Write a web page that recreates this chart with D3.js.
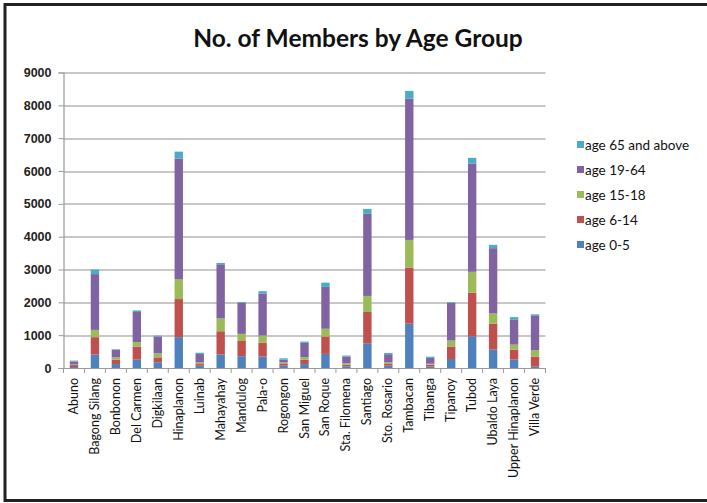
<!DOCTYPE html>
<html>
<head>
<meta charset="utf-8">
<script src="https://cdn.jsdelivr.net/npm/d3@7"></script>
<style>
  body { margin: 0; background: #fff; }
  svg { display: block; }
</style>
</head>
<body>
<svg id="chart" width="707" height="503"></svg>
<script>
// barangay names along the x axis
const barangays = ['Abuno', 'Bagong Silang', 'Bonbonon', 'Del Carmen', 'Digkilaan', 'Hinaplanon',
  'Luinab', 'Mahayahay', 'Mandulog', 'Pala-o', 'Rogongon', 'San Miguel', 'San Roque',
  'Sta. Filomena', 'Santiago', 'Sto. Rosario', 'Tambacan', 'Tibanga', 'Tipanoy', 'Tubod',
  'Ubaldo Laya', 'Upper Hinaplanon', 'Villa Verde'];

// one array per age group (stack order bottom -> top)
const age0to5    = [30, 410, 120, 255, 175, 940, 70, 410, 360, 350, 70, 120, 430, 50, 755, 70, 1350, 40, 275, 970, 560, 255, 40];
const age6to14   = [60, 530, 135, 400, 150, 1160, 50, 710, 480, 420, 70, 135, 530, 50, 950, 70, 1710, 60, 380, 1320, 790, 305, 310];
const age15to18  = [20, 220, 70, 130, 120, 610, 50, 390, 200, 220, 30, 70, 235, 40, 490, 30, 840, 30, 180, 640, 310, 150, 185];
const age19to64  = [90, 1700, 225, 920, 510, 3670, 255, 1650, 950, 1280, 85, 440, 1275, 210, 2500, 250, 4300, 180, 1150, 3300, 1990, 770, 1070];
const age65up    = [25, 140, 20, 50, 30, 210, 40, 40, 20, 70, 40, 40, 130, 30, 150, 40, 240, 35, 20, 170, 100, 70, 30];

const seriesNames = ['age 0-5', 'age 6-14', 'age 15-18', 'age 19-64', 'age 65 and above'];
const seriesValues = [age0to5, age6to14, age15to18, age19to64, age65up];
const seriesColors = ['#4F81BD', '#C0504D', '#9BBB59', '#8064A2', '#4BACC6'];

const yTicks = [0, 1000, 2000, 3000, 4000, 5000, 6000, 7000, 8000, 9000];

const svg = d3.select('#chart');
const margin = { left: 63.5, right: 161.5, top: 72.5, bottom: 135 };
const width = 707 - margin.left - margin.right;
const height = 503 - margin.top - margin.bottom;

// outer frame (right side runs off the picture)
svg.append('rect')
  .attr('x', 5).attr('y', 4.5)
  .attr('width', 720).attr('height', 496)
  .attr('fill', 'none')
  .attr('stroke', '#222')
  .attr('stroke-width', 3);

// title
svg.append('text')
  .attr('x', 358).attr('y', 47)
  .attr('text-anchor', 'middle')
  .style('font-family', 'Lato, "Open Sans", sans-serif')
  .style('font-weight', 'bold')
  .style('font-size', '24.5px')
  .attr('fill', '#111')
  .text('No. of Members by Age Group');

const g = svg.append('g').attr('transform', `translate(${margin.left},${margin.top})`);

const x = d3.scaleBand().domain(barangays).range([0, width]).paddingInner(0.6).paddingOuter(0.3);
const y = d3.scaleLinear().domain([0, 9000]).range([height, 0]);

// gridlines
g.selectAll('.grid')
  .data(yTicks.filter(d => d > 0))
  .enter()
  .append('line')
  .attr('x1', 0).attr('x2', width)
  .attr('y1', d => Math.round(y(d)) + 0.5)
  .attr('y2', d => Math.round(y(d)) + 0.5)
  .attr('stroke', '#b5b5b5')
  .attr('stroke-width', 1.5);

// stacked data
const rows = barangays.map((name, i) => {
  const row = { name };
  seriesNames.forEach((s, j) => { row[s] = seriesValues[j][i]; });
  return row;
});
const stacked = d3.stack().keys(seriesNames)(rows);

g.selectAll('.series')
  .data(stacked)
  .enter()
  .append('g')
  .attr('fill', (d, i) => seriesColors[i])
  .selectAll('rect')
  .data(d => d)
  .enter()
  .append('rect')
  .attr('x', d => x(d.data.name))
  .attr('width', x.bandwidth())
  .attr('y', d => y(d[1]))
  .attr('height', d => y(d[0]) - y(d[1]));

// y axis
const yAxis = g.append('g')
  .call(d3.axisLeft(y).tickValues(yTicks).tickSize(5).tickPadding(7).tickFormat(d3.format('d')));
yAxis.select('.domain').attr('stroke', '#999').attr('stroke-width', 1.2);
yAxis.selectAll('.tick line').attr('stroke', '#999');
yAxis.selectAll('.tick text')
  .style('font-family', '"Liberation Sans", Arial, sans-serif')
  .style('font-size', '12.5px')
  .style('font-weight', 'bold')
  .attr('fill', '#222');

// x axis: ticks between categories like Excel
const xAxis = g.append('g').attr('transform', `translate(0,${height})`);
xAxis.append('line')
  .attr('x1', 0).attr('x2', width)
  .attr('y1', 0.5).attr('y2', 0.5)
  .attr('stroke', '#999').attr('stroke-width', 1.2);
xAxis.selectAll('.xtick')
  .data(d3.range(barangays.length + 1))
  .enter()
  .append('line')
  .attr('x1', i => i * x.step())
  .attr('x2', i => i * x.step())
  .attr('y1', 0).attr('y2', 5)
  .attr('stroke', '#999');
xAxis.selectAll('.xlabel')
  .data(barangays)
  .enter()
  .append('text')
  .attr('transform', d => `translate(${x(d) + x.bandwidth() / 2 + 4},10) rotate(-90)`)
  .attr('text-anchor', 'end')
  .style('font-family', 'Lato, "Open Sans", sans-serif')
  .style('font-size', '12.5px')
  .attr('fill', '#111')
  .text(d => d);

// legend, top entry is the last series
const legend = svg.append('g').attr('transform', 'translate(577,145)');
const legendOrder = seriesNames.map((s, i) => i).reverse();
legendOrder.forEach((si, k) => {
  const item = legend.append('g').attr('transform', `translate(0,${k * 25})`);
  item.append('rect')
    .attr('x', 0).attr('y', -4)
    .attr('width', 7).attr('height', 7)
    .attr('fill', seriesColors[si]);
  item.append('text')
    .attr('x', 8).attr('y', 4.5)
    .style('font-family', 'Lato, "Open Sans", sans-serif')
    .style('font-size', '13.5px')
    .attr('fill', '#111')
    .text(seriesNames[si]);
});
</script>
</body>
</html>
